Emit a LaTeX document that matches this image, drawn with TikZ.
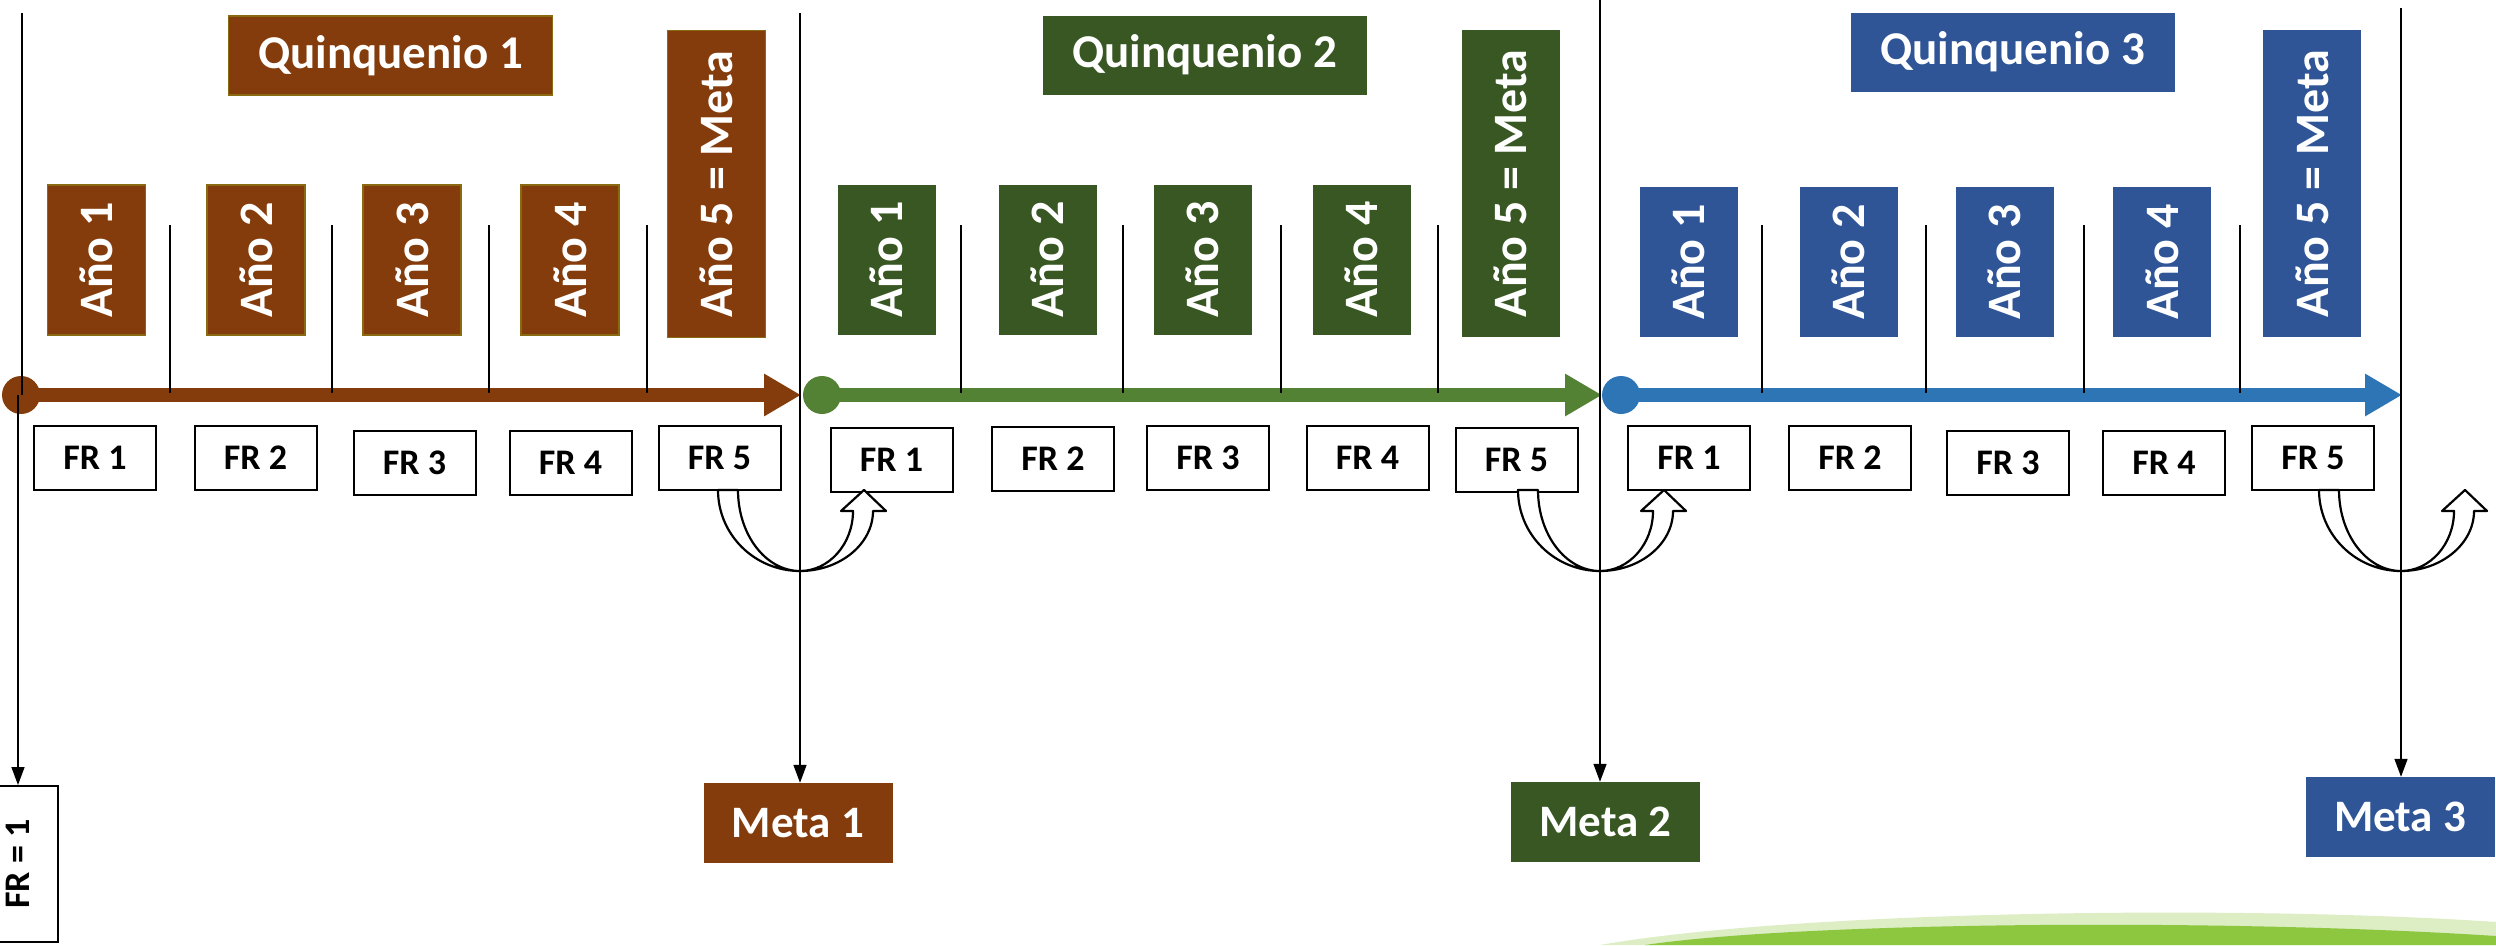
\documentclass[tikz,border=0pt]{standalone}
\usepackage{fontspec}
\setmainfont{Carlito}
\usetikzlibrary{arrows.meta}
\definecolor{qbrown}{HTML}{843C0C}
\definecolor{qbrownedge}{HTML}{8A6A10}
\definecolor{qgreen}{HTML}{385723}
\definecolor{qblue}{HTML}{2F5597}
\definecolor{agreen}{HTML}{548235}
\definecolor{ablue}{HTML}{2E75B6}
\definecolor{hill}{HTML}{8DC63F}
\tikzset{
  titlebox/.style={fill=#1, text=white, minimum width=324pt, minimum height=79pt, inner sep=0pt, font=\fontsize{47}{56}\selectfont\bfseries},
  yearbox/.style={fill=#1, text=white, rotate=90, minimum width=150pt, minimum height=98pt, inner sep=0pt, font=\fontsize{48}{56}\selectfont\bfseries},
  lastbox/.style={fill=#1, text=white, rotate=90, minimum width=307pt, minimum height=98pt, inner sep=0pt, font=\fontsize{48}{56}\selectfont\bfseries},
  brownedge/.style={draw=qbrownedge, line width=1.5pt},
  frbox/.style={draw=black, line width=2pt, fill=white, minimum width=122pt, minimum height=64pt, inner sep=0pt, font=\fontsize{36}{42}\selectfont\bfseries},
  goalbox/.style={fill=#1, text=white, minimum width=189pt, minimum height=80pt, inner sep=0pt, font=\fontsize{45}{52}\selectfont\bfseries},
  dot/.style={circle, fill=#1, minimum size=38pt, inner sep=0pt},
  timeline/.style={draw=#1, line width=14pt, -{Triangle[length=37pt,width=40pt]}},
  tickline/.style={draw=black, line width=1.3pt},
  plainline/.style={draw=black, line width=1.5pt},
  vline/.style={draw=black, line width=1.5pt, -{Triangle[width=13pt,length=18pt]}},
  uturn/.pic={
    \draw[line width=2.2pt, fill=white, line join=round]
      (-82,490) .. controls (-82,535) and (-45,571) .. (0,571)
      .. controls (40,571) and (73,544) .. (73,511)
      -- (86,511) -- (64,490) -- (41,511) -- (53,511)
      .. controls (53,544) and (29,571) .. (0,571)
      .. controls (-34,571) and (-62,535) .. (-62,490) -- cycle;
  }
}
\begin{document}
\begin{tikzpicture}[x=1pt,y=-1pt]
\useasboundingbox (0,0) rectangle (2496,945);
\fill[white] (0,0) rectangle (2496,945);
% green hill at the bottom
\fill[hill!30] (1600,945) .. controls (1800,910) and (2250,905) .. (2496,922) -- (2496,945) -- cycle;
\fill[hill] (1645,945) .. controls (1800,922) and (2220,918) .. (2496,936) -- (2496,945) -- cycle;

% titles
\node[titlebox=qbrown, brownedge] (q1) at (390.5,55.5) {Quinquenio 1};
\node[titlebox=qgreen] (q2) at (1204.5,55) {Quinquenio 2};
\node[titlebox=qblue] (q3) at (2012.5,52) {Quinquenio 3};

% year boxes
\node[yearbox=qbrown, brownedge] (y11) at (96.5,260) {Año 1};
\node[yearbox=qbrown, brownedge] (y12) at (256,260) {Año 2};
\node[yearbox=qbrown, brownedge] (y13) at (412,260) {Año 3};
\node[yearbox=qbrown, brownedge] (y14) at (570,260) {Año 4};
\node[lastbox=qbrown, brownedge] (y15) at (716.5,184) {Año 5 = Meta};
\node[yearbox=qgreen] (y21) at (886.5,259.5) {Año 1};
\node[yearbox=qgreen] (y22) at (1047.5,259.5) {Año 2};
\node[yearbox=qgreen] (y23) at (1202.5,259.5) {Año 3};
\node[yearbox=qgreen] (y24) at (1361.5,259.5) {Año 4};
\node[lastbox=qgreen] (y25) at (1510.5,183.5) {Año 5 = Meta};
\node[yearbox=qblue] (y31) at (1688.5,262) {Año 1};
\node[yearbox=qblue] (y32) at (1848.5,262) {Año 2};
\node[yearbox=qblue] (y33) at (2004.5,262) {Año 3};
\node[yearbox=qblue] (y34) at (2162,262) {Año 4};
\node[lastbox=qblue] (y35) at (2312,183.5) {Año 5 = Meta};

% timelines
\node[dot=qbrown] (s1) at (21,395) {};
\node[dot=agreen] (s2) at (822,395) {};
\node[dot=ablue] (s3) at (1621,395) {};
\coordinate (t1) at (801,395);
\coordinate (t2) at (1602,395);
\coordinate (t3) at (2402,395);
\draw[timeline=qbrown] (s1.center) -- (t1);
\draw[timeline=agreen] (s2.center) -- (t2);
\draw[timeline=ablue] (s3.center) -- (t3);

% ticks
\foreach \x in {170,332,489,647,961,1123,1281,1438,1762,1926,2084,2240}
  \draw[tickline] (\x,225) -- (\x,393);

% FR boxes
\node[frbox] (f11) at (95,458) {FR 1};
\node[frbox] (f12) at (255.5,457.5) {FR 2};
\node[frbox] (f13) at (414.5,462.5) {FR 3};
\node[frbox] (f14) at (570.5,462.5) {FR 4};
\node[frbox] (f15) at (719.5,457.5) {FR 5};
\node[frbox] (f21) at (891.5,459.5) {FR 1};
\node[frbox] (f22) at (1053,459) {FR 2};
\node[frbox] (f23) at (1208,457.5) {FR 3};
\node[frbox] (f24) at (1367.5,457.5) {FR 4};
\node[frbox] (f25) at (1516.5,459.5) {FR 5};
\node[frbox] (f31) at (1689,458) {FR 1};
\node[frbox] (f32) at (1850,457.5) {FR 2};
\node[frbox] (f33) at (2008,462.5) {FR 3};
\node[frbox] (f34) at (2164,462.5) {FR 4};
\node[frbox] (f35) at (2313,457.5) {FR 5};

% u-turn arrows
\pic at (800,0) {uturn};
\pic at (1600,0) {uturn};
\pic at (2401,0) {uturn};

% bottom boxes
\node[frbox, rotate=90, minimum width=156pt, minimum height=80pt] (fr0) at (18,864) {FR = 1};
\node[goalbox=qbrown] (m1) at (798,823) {Meta 1};
\node[goalbox=qgreen] (m2) at (1605.5,822) {Meta 2};
\node[goalbox=qblue] (m3) at (2400,817) {Meta 3};

% long vertical lines
\coordinate (v1) at (22,13);
\coordinate (v1b) at (18,395);
\coordinate (v2) at (800,13);
\coordinate (v3) at (1600,0);
\coordinate (v4) at (2401,8);
\draw[plainline] (v1) -- (v1 |- s1.center);
\draw[vline] (v1b) -- (v1b |- fr0.east);
\draw[vline] (v2) -- (v2 |- m1.north);
\draw[vline] (v3) -- (v3 |- m2.north);
\draw[vline] (v4) -- (v4 |- m3.north);
\end{tikzpicture}
\end{document}
